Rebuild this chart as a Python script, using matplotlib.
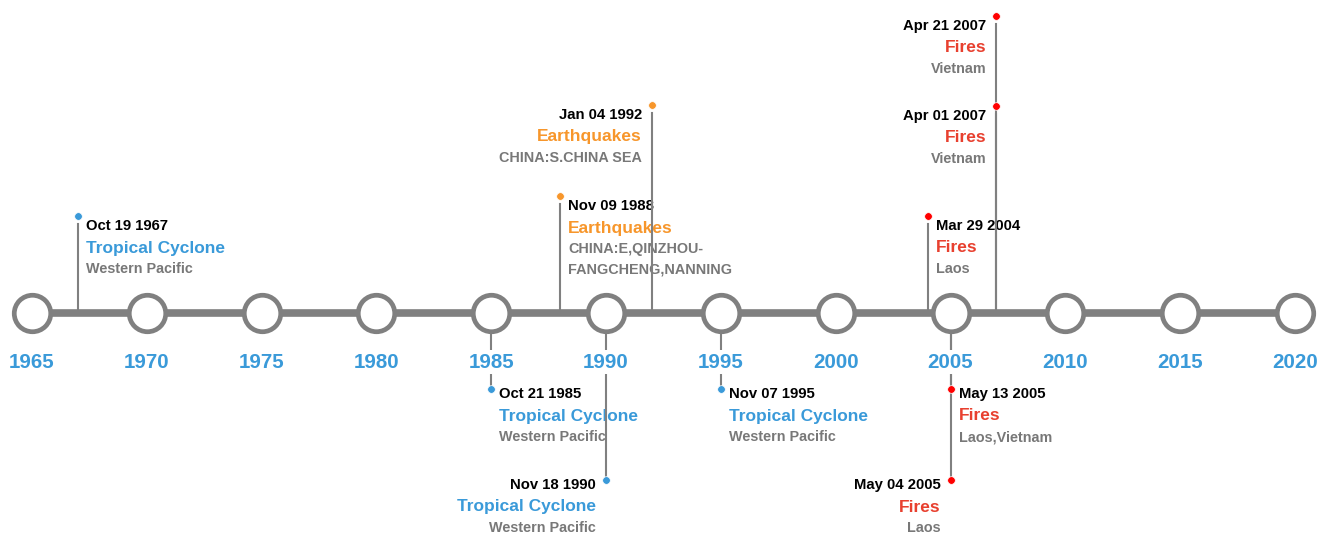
import matplotlib
matplotlib.use('Agg')
import matplotlib.pyplot as plt

plt.rcParams['font.family'] = ['Liberation Sans', 'DejaVu Sans']

# Events (levels are vertical offsets from the axis, in pixels)
dates = ['Oct 19 1967', 'Oct 21 1985', 'Nov 09 1988', 'Nov 18 1990',
         'Jan 04 1992', 'Nov 07 1995', 'Mar 29 2004', 'May 04 2005',
         'May 13 2005', 'Apr 01 2007', 'Apr 21 2007']
years = [1967, 1985, 1988, 1990, 1992, 1995, 2004, 2005, 2005, 2007, 2007]
categories = ['Tropical Cyclone', 'Tropical Cyclone', 'Earthquakes',
              'Tropical Cyclone', 'Earthquakes', 'Tropical Cyclone',
              'Fires', 'Fires', 'Fires', 'Fires', 'Fires']
regions = ['Western Pacific', 'Western Pacific',
           'CHINA:E,QINZHOU-\nFANGCHENG,NANNING', 'Western Pacific',
           'CHINA:S.CHINA SEA', 'Western Pacific', 'Laos', 'Laos',
           'Laos,Vietnam', 'Vietnam', 'Vietnam']
levels = [97, -76, 117, -167, 208, -76, 97, -167, -76, 207, 297]
sides = ['right', 'right', 'right', 'left', 'left', 'right',
         'right', 'left', 'right', 'left', 'left']

tick_years = list(range(1965, 2021, 5))

cat_colors = {'Tropical Cyclone': '#3a9ad9',
              'Earthquakes': '#f7962b',
              'Fires': '#e8402f'}
dot_colors = {'Tropical Cyclone': '#3a9ad9',
              'Earthquakes': '#f7962b',
              'Fires': '#ff0000'}
axis_gray = '#808080'
blue = '#3a9ad9'

W, H = 1328, 536
x0 = 1965 - 32 / 22.964
x1 = x0 + W / 22.964
ppy = W / (x1 - x0)  # pixels per year

fig = plt.figure(figsize=(W / 100, H / 100), dpi=100)
ax = fig.add_axes([0, 0, 1, 1])
ax.set_xlim(x0, x1)
ax.set_ylim(-223, 313)
ax.axis('off')

# main axis line + year circles
ax.plot([tick_years[0], tick_years[-1]], [0, 0], color=axis_gray, lw=5.5,
        solid_capstyle='butt', zorder=3)
ax.scatter(tick_years, [0] * len(tick_years), s=690, facecolor='white',
           edgecolor=axis_gray, linewidth=3.4, zorder=4)
for yr in tick_years:
    ax.text(yr, -49, str(yr), ha='center', va='center', fontsize=14.8,
            fontweight='bold', color=blue, zorder=5,
            bbox=dict(boxstyle='square,pad=0.1', fc='white', ec='none'))

for date, yr, cat, reg, lev, side in zip(dates, years, categories, regions,
                                          levels, sides):
    # stem
    if lev > 0:
        ax.plot([yr, yr], [0, lev - 8], color=axis_gray, lw=1.5, zorder=2.5)
    else:
        ax.plot([yr, yr], [0, lev], color=axis_gray, lw=1.5, zorder=2.5)
    ax.plot(yr, lev, 'o', ms=5.5, color=dot_colors[cat], mec='white',
            mew=0.5, zorder=6)

    if side == 'right':
        tx = yr + 8 / ppy
        ha = 'left'
    else:
        tx = yr - 10 / ppy
        ha = 'right'
    d0 = 10 if lev > 0 else 5
    ax.text(tx, lev - d0, date, ha=ha, va='center', fontsize=10.7,
            fontweight='bold', color='black', zorder=2)
    ax.text(tx, lev - d0 - 22, cat, ha=ha, va='center', fontsize=12.5,
            fontweight='bold', color=cat_colors[cat], zorder=2)
    for k, line in enumerate(reg.split('\n')):
        ax.text(tx, lev - d0 - 43 - 20 * k, line, ha=ha, va='center',
                fontsize=10.4, fontweight='bold', color='#787878', zorder=2)

fig.savefig('out.png', dpi=100)
